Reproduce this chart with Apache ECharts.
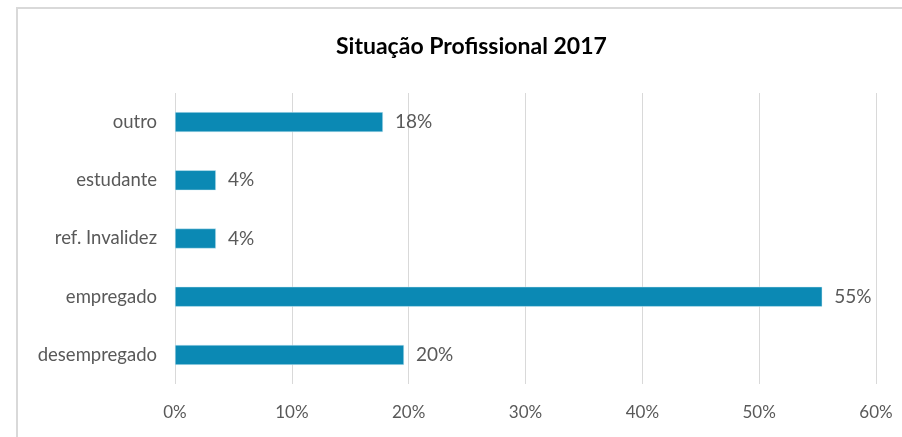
<!DOCTYPE html>
<html>
<head>
<meta charset="utf-8">
<script src="https://cdn.jsdelivr.net/npm/echarts@6/dist/echarts.min.js"></script>
<style>
  html, body { margin: 0; padding: 0; background: #fff; }
  #chart { width: 902px; height: 437px; }
</style>
</head>
<body>
<div id="chart"></div>
<script>
// categories bottom to top (category axis starts at bottom)
const categories = ['desempregado', 'empregado', 'ref. Invalidez', 'estudante', 'outro'];
const values = [19.6, 55.4, 3.5, 3.5, 17.8];
const tickLabels = ['0%', '10%', '20%', '30%', '40%', '50%', '60%'];

const font = 'Lato, "Open Sans", sans-serif';

let chart = echarts.init(document.getElementById('chart'));
chart.setOption({
  backgroundColor: '#fff',
  animation: false,
  title: {
    text: 'Situação Profissional 2017',
    left: 331,
    top: 30,
    textStyle: { fontFamily: font, fontSize: 23, fontWeight: 'bold', color: '#000' }
  },
  graphic: [{
    type: 'rect',
    shape: { x: 17, y: 8, width: 900, height: 450 },
    style: { fill: 'none', stroke: '#d9d9d9', lineWidth: 2 },
    silent: true
  }],
  grid: { left: 175, right: 26, top: 93, bottom: 53 },
  xAxis: {
    type: 'value',
    min: 0,
    max: 60,
    interval: 10,
    axisLine: { show: false },
    axisTick: { show: false },
    splitLine: { lineStyle: { color: '#d9d9d9', width: 1 } },
    axisLabel: {
      margin: 20,
      fontFamily: font,
      fontSize: 17,
      color: '#595959',
      formatter: (v) => tickLabels[Math.round(v / 10)]
    }
  },
  yAxis: {
    type: 'category',
    data: categories,
    axisLine: { show: false },
    axisTick: { show: false },
    axisLabel: { margin: 18, fontFamily: font, fontSize: 18.5, color: '#595959' }
  },
  series: [{
    type: 'bar',
    data: values,
    barWidth: 20,
    itemStyle: { color: '#0b89b4', borderColor: '#d6eef6', borderWidth: 0.5 },
    label: {
      show: true,
      position: 'right',
      distance: 12,
      fontFamily: font,
      fontSize: 19,
      color: '#595959',
      formatter: (p) => Math.round(p.value) + '%'
    }
  }]
});
</script>
</body>
</html>
